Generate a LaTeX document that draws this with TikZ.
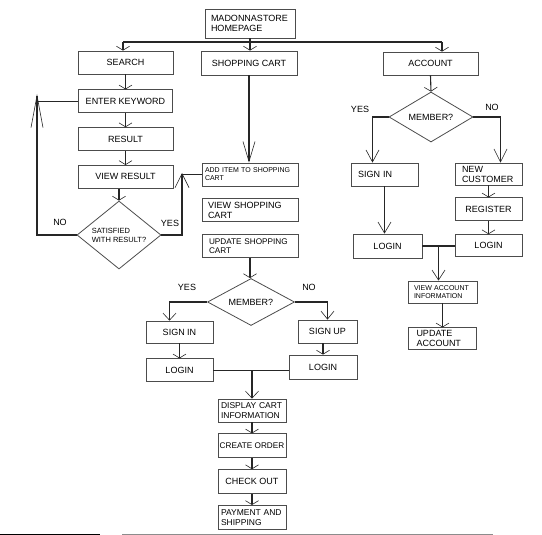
\documentclass[tikz,border=0pt]{standalone}
\usepackage{fontspec}
\setmainfont{Liberation Sans}
\usetikzlibrary{positioning,shapes.geometric,arrows.meta}

\begin{document}
\begin{tikzpicture}[x=1pt, y=-1pt,
				box/.style={rectangle, draw=black!70, line width=0.8pt, inner sep=0pt, font=\fontsize{9}{10}\selectfont},
				lbox/.style={box, align=left},
				decision/.style={diamond, draw=black!70, line width=0.8pt, inner sep=0pt, font=\fontsize{9}{10}\selectfont},
				tag/.style={font=\fontsize{9}{10}\selectfont},
				flat/.style={-{Straight Barb[length=4pt, width=13pt, line width=0.6pt]}},
				barb/.style={-{Straight Barb[length=#1, width=13pt, line width=0.6pt]}}
			]
			\useasboundingbox (0,0) rectangle (542,535);
			% top row
			\node[lbox, text width=78pt, inner xsep=6pt, minimum height=29pt] (home) at (250,23.5) {MADONNASTORE\\HOMEPAGE};
			\node[box, minimum width=95pt, minimum height=23pt] (search) at (125.5,62.5) {SEARCH};
			\node[box, minimum width=96pt, minimum height=24pt] (cart) at (249,63) {SHOPPING CART};
			\node[box, minimum width=95pt, minimum height=23pt] (account) at (430.5,63.5) {ACCOUNT};
			% search column
			\node[box, minimum width=94pt, minimum height=23pt] (keyword) [below=15pt of search] {ENTER KEYWORD};
			\node[box, minimum width=95pt, minimum height=23pt] (result) [below=14pt of keyword] {RESULT};
			\node[box, minimum width=95pt, minimum height=23pt] (viewres) [below=14pt of result] {VIEW RESULT};
			\node[decision, shape aspect=1.235, minimum width=84pt, minimum height=68pt, align=left, font=\fontsize{7.5}{9}\selectfont] (satisfied) at (119,235) {SATISFIED\\WITH RESULT?};
			% cart column
			\node[lbox, text width=90pt, inner xsep=3pt, minimum height=23pt, font=\fontsize{7}{8}\selectfont] (additem) at (250,174.5) {ADD ITEM TO SHOPPING\\CART};
			\node[lbox, text width=84pt, inner xsep=6pt, minimum height=23pt] (viewcart) [below=12pt of additem] {VIEW SHOPPING\\CART};
			\node[lbox, text width=82pt, inner xsep=7pt, minimum height=23pt, font=\fontsize{8.2}{9}\selectfont] (update) [below=12pt of viewcart] {UPDATE SHOPPING\\CART};
			\node[decision, shape aspect=1.85, minimum width=87pt, minimum height=47pt] (cmember) at (251,302) {MEMBER?};
			\node[box, minimum width=67pt, minimum height=22pt] (csignin) at (179.5,332) {SIGN IN};
			\node[box, minimum width=59pt, minimum height=23pt] (csignup) at (327.5,331.5) {SIGN UP};
			\node[box, minimum width=67pt, minimum height=23pt] (cloginl) [below=15pt of csignin] {LOGIN};
			\node[box, minimum width=68pt, minimum height=24pt] (cloginr) at (323,367) {LOGIN};
			\node[lbox, text width=62pt, inner xsep=3pt, minimum height=23pt, font=\fontsize{8.5}{10}\selectfont] (display) at (252,410.5) {DISPLAY CART\\INFORMATION};
			\node[box, minimum width=68pt, minimum height=24pt, font=\fontsize{8.2}{10}\selectfont] (order) [below=11pt of display] {CREATE ORDER};
			\node[box, minimum width=68pt, minimum height=24pt] (checkout) [below=11pt of order] {CHECK OUT};
			\node[lbox, text width=62pt, inner xsep=3pt, minimum height=24pt, font=\fontsize{8.5}{10}\selectfont] (payment) [below=11pt of checkout] {PAYMENT AND\\SHIPPING};
			% account column
			\node[decision, shape aspect=1.68, minimum width=84pt, minimum height=50pt] (amember) at (431,117) {MEMBER?};
			\node[lbox, text width=53pt, inner xsep=7pt, minimum height=23pt] (asignin) at (384.5,174.5) {SIGN IN};
			\node[lbox, text width=53pt, inner xsep=7pt, minimum height=22pt] (newcust) at (488.5,174) {NEW\\CUSTOMER};
			\node[box, minimum width=67pt, minimum height=23pt] (register) [below=12pt of newcust] {REGISTER};
			\node[box, minimum width=67pt, minimum height=22pt] (aloginr) [below=13pt of register] {LOGIN};
			\node[box, minimum width=69pt, minimum height=24pt] (aloginl) at (387.5,246) {LOGIN};
			\node[lbox, text width=57pt, inner xsep=6pt, minimum height=22pt, font=\fontsize{7}{8.5}\selectfont] (viewacc) at (442.5,292) {VIEW ACCOUNT\\INFORMATION};
			\node[lbox, text width=52pt, inner xsep=8pt, minimum height=22pt] (updacc) [below=24pt of viewacc] {UPDATE\\ACCOUNT};
			% branch labels
			\node[tag] (satno) at (60,222) {NO};
			\node[tag] (satyes) at (170,223) {YES};
			\node[tag] (cyes) at (187,287) {YES};
			\node[tag] (cno) at (309,287) {NO};
			\node[tag] (ayes) at (360,109) {YES};
			\node[tag] (ano) at (492,107) {NO};
			\coordinate (busl) at (123,42);
			\coordinate (busr) at (442,42);
			\coordinate (noup) at (37,94);
			\coordinate (yesup) at (182,173);
			\begin{scope}[line width=1.1pt, draw=black!85]
			\draw (busl) -- (busr);
			\draw[flat] (busl) -- (busl |- search.north);
			\draw[flat] (home.south) -- (home.south |- cart.north);
			\draw[flat] (busr) -- (busr |- account.north);
			\draw[flat] (search.south) -- (keyword.north);
			\draw[flat] (keyword.south) -- (result.north);
			\draw[flat] (result.south) -- (viewres.north);
			\draw[flat] (viewres.south -| satisfied.north) -- (satisfied.north);
			\draw[-{Straight Barb[length=32pt, width=12pt, line width=0.6pt]}] (satisfied.west) -| (noup);
			\draw (keyword.west) -- (keyword.west -| noup);
			\draw[-{Straight Barb[length=14pt, width=14pt, line width=0.6pt]}] (satisfied.east) -| (yesup);
			\draw (additem.west) -- (additem.west -| yesup);
			\draw[-{Straight Barb[length=20pt, width=12pt, line width=0.6pt]}] (cart.south) -- (cart.south |- additem.north);
			\draw[flat] (update.south) -- (update.south |- cmember.north);
			\draw[barb=7pt] (cmember.west) -| ([xshift=-10pt]csignin.north);
			\draw[barb=8pt] (cmember.east) -| (csignup.north);
			\draw[flat] (csignin.south) -- (cloginl.north);
			\draw[flat] (cloginr.north |- csignup.south) -- (cloginr.north);
			\draw (cloginl.east) -- (cloginl.east -| cloginr.west);
			\draw[barb=7pt] (cloginl.east -| display.north) -- (display.north);
			\draw[flat] (display.south) -- (order.north);
			\draw[flat] (order.south) -- (checkout.north);
			\draw[flat] (checkout.south) -- (payment.north);
			\draw[flat] (account.south) -- (amember.north);
			\draw[barb=12pt] (amember.west) -| ([xshift=-12pt]asignin.north);
			\draw[barb=13pt] (amember.east) -| ([xshift=12pt]newcust.north);
			\draw[barb=11pt] (asignin.south) -- (asignin.south |- aloginl.north);
			\draw[flat] (newcust.south) -- (register.north);
			\draw[flat] (register.south) -- (aloginr.north);
			\draw (aloginl.east) -- (aloginl.east -| aloginr.west);
			\draw[barb=10pt] ([xshift=-4pt]viewacc.north |- aloginl.east) -- ([xshift=-4pt]viewacc.north);
			\draw[flat] (viewacc.south) -- (updacc.north);
			\end{scope}
			% page edge
			\draw[line width=0.8pt] (0,534) -- (100,534);
			\draw[black!45, line width=1pt] (122,534) -- (493,534);
			\end{tikzpicture}
\end{document}
